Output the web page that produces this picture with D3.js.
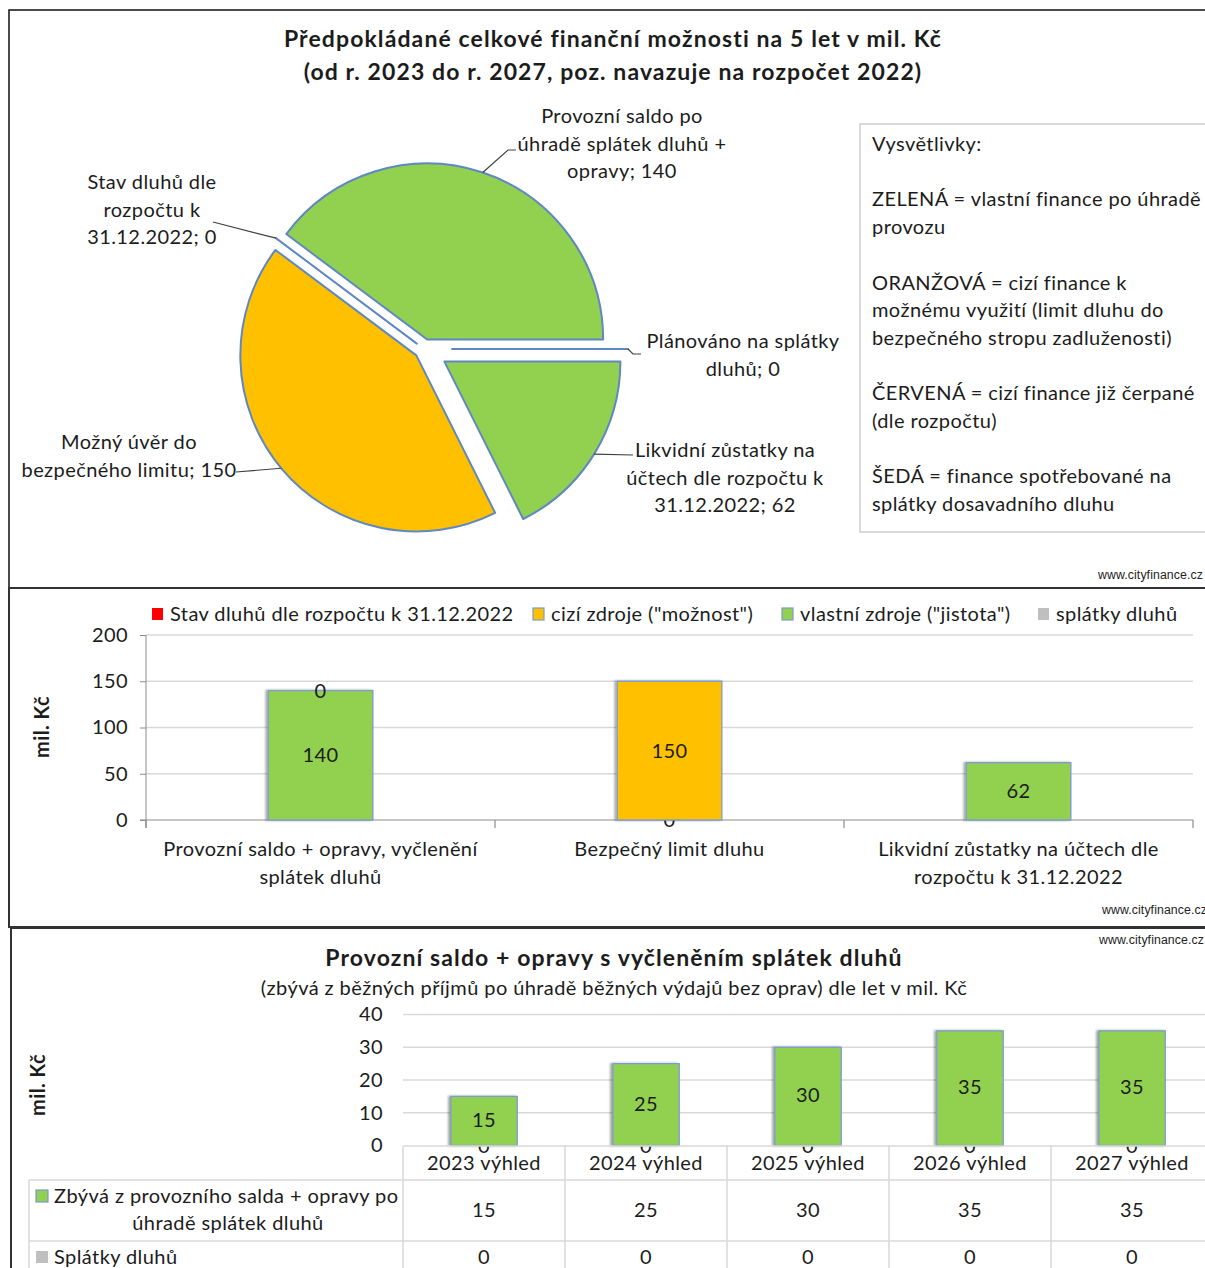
<!DOCTYPE html>
<html><head><meta charset="utf-8">
<script src="https://cdn.jsdelivr.net/npm/d3@7"></script>
<style>
html,body{margin:0;padding:0;background:#fff;overflow:hidden;}
svg{display:block;font-family:Lato,"Open Sans",sans-serif;}
svg text{letter-spacing:0.42px;}
svg text.head{letter-spacing:1.1px;font-weight:bold;font-size:23px;}
svg text.wm{letter-spacing:0.1px;}
</style></head><body>
<svg id="c" width="1205" height="1268"></svg>
<script>
// ---------- pie: five-year financial capacity ----------
const pieNames = [
  ["Stav dluhů dle", "rozpočtu k", "31.12.2022"],
  ["Provozní saldo po", "úhradě splátek dluhů +", "opravy"],
  ["Plánováno na splátky", "dluhů"],
  ["Likvidní zůstatky na", "účtech dle rozpočtu k", "31.12.2022"],
  ["Možný úvěr do", "bezpečného limitu"]
];
const pieValues = [0, 140, 0, 62, 150];
const pieKinds = ["debt", "own", "repay", "own", "foreign"];

const legendNotes = [
  ["Vysvětlivky:"],
  ["ZELENÁ = vlastní finance po úhradě", "provozu"],
  ["ORANŽOVÁ = cizí finance k", "možnému využití (limit dluhu do", "bezpečného stropu zadluženosti)"],
  ["ČERVENÁ = cizí finance již čerpané", "(dle rozpočtu)"],
  ["ŠEDÁ = finance spotřebované na", "splátky dosavadního dluhu"]
];

// ---------- stacked columns: sources ----------
const srcCategories = [
  ["Provozní saldo + opravy, vyčlenění", "splátek dluhů"],
  ["Bezpečný limit dluhu"],
  ["Likvidní zůstatky na účtech dle", "rozpočtu k 31.12.2022"]
];
const srcSeriesNames = ["Stav dluhů dle rozpočtu k 31.12.2022", "cizí zdroje (\"možnost\")", "vlastní zdroje (\"jistota\")", "splátky dluhů"];
const srcSeriesKinds = ["debt", "foreign", "own", "repay"];
const debtState = [null, 0, null];
const foreignSources = [null, 150, null];
const ownSources = [140, null, 62];
const debtRepayments = [0, null, null];
const srcTicks = [0, 50, 100, 150, 200];

// ---------- yearly outlook ----------
const years = ["2023 výhled", "2024 výhled", "2025 výhled", "2026 výhled", "2027 výhled"];
const remainingBalance = [15, 25, 30, 35, 35];
const yearlyRepayments = [0, 0, 0, 0, 0];
const yearSeriesNames = [["Zbývá z provozního salda + opravy po", "úhradě splátek dluhů"], ["Splátky dluhů"]];
const yearTicks = [0, 10, 20, 30, 40];

// ---------- styling ----------
const fills = {own: "#92d050", foreign: "#ffc000", debt: "#ff0000", repay: "#bfbfbf"};
const edge = "#5f87c3";
const ink = "#1c1c1c";
const svg = d3.select("#c");

const defs = svg.append("defs");
const sh = defs.append("filter").attr("id", "shadow").attr("x", "-20%").attr("y", "-5%").attr("width", "140%").attr("height", "110%");
sh.append("feDropShadow").attr("dx", -2).attr("dy", 0).attr("stdDeviation", 1.2).attr("flood-color", "#000").attr("flood-opacity", 0.35);

// panel frames
const frames = [[9, 10, 1220, 578], [9, 588, 1220, 339], [11, 928, 1220, 360]];
svg.selectAll("rect.frame").data(frames).join("rect").attr("class", "frame")
  .attr("x", d => d[0]).attr("y", d => d[1]).attr("width", d => d[2]).attr("height", d => d[3])
  .attr("fill", "none").attr("stroke", (d, i) => i === 0 ? "#111" : "#333").attr("stroke-width", (d, i) => i === 0 ? 1.5 : 2);

// watermarks
const marks = [[1098, 579], [1102, 914], [1099, 944]];
svg.selectAll("text.wm").data(marks).join("text").attr("class", "wm")
  .attr("x", d => d[0]).attr("y", d => d[1])
  .style("font-family", "'Liberation Sans Narrow','Arial Narrow','Liberation Sans',sans-serif")
  .style("font-size", "12.3px").attr("fill", "#222").text("www.cityfinance.cz");

// ===== pie =====
const title1 = svg.append("text").attr("class", "head").attr("x", 613).attr("text-anchor", "middle").attr("fill", ink);
title1.append("tspan").attr("x", 613).attr("y", 47).text("Předpokládané celkové finanční možnosti na 5 let v mil. Kč");
title1.append("tspan").attr("x", 613).attr("y", 80).text("(od r. 2023 do r. 2027, poz. navazuje na rozpočet 2022)");

const total = d3.sum(pieValues);
// first slice rotated so the operating-balance slice closes at 3 o'clock
const startA = Math.PI / 2 - 2 * Math.PI * (pieValues[0] + pieValues[1]) / total;
const pie = d3.pie().sort(null).startAngle(startA).endAngle(startA + 2 * Math.PI);
const R = 176;
const centre = [424, 349];
const explode = [9, 10, 28, 24, 10];
const arcGen = d3.arc().innerRadius(0).outerRadius(R);
const slices = pie(pieValues).map((a, i) => {
  const mid = (a.startAngle + a.endAngle) / 2;
  const ox = centre[0] + Math.sin(mid) * explode[i], oy = centre[1] - Math.cos(mid) * explode[i];
  return {a, i, mid, ox, oy};
});
const gPie = svg.append("g");
gPie.selectAll("path").data(slices).join("path")
  .attr("transform", d => `translate(${d.ox},${d.oy})`)
  .attr("d", d => arcGen(d.a))
  .attr("fill", d => fills[pieKinds[d.i]])
  .attr("stroke", edge).attr("stroke-width", 2).attr("stroke-linejoin", "round");

// data labels with leader lines
const pieLabelLayout = [
  {x: 152, y: 182, via: [[213, 222]]},
  {x: 622, y: 116, via: [[508, 150], [516, 150]]},
  {x: 743, y: 341, via: [[633, 354], [641, 354]]},
  {x: 725, y: 450, via: [[633, 455]]},
  {x: 129, y: 442, via: [[236, 472]]}
];
const line = d3.line();
slices.forEach(s => {
  const L = pieLabelLayout[s.i];
  const p0 = [s.ox + Math.sin(s.mid) * R, s.oy - Math.cos(s.mid) * R];
  gPie.append("path").attr("d", line([p0, ...L.via])).attr("fill", "none")
    .attr("stroke", "#404040").attr("stroke-width", 1.2);
  const lines = pieNames[s.i].slice();
  lines[lines.length - 1] += "; " + pieValues[s.i];
  const t = gPie.append("text").attr("text-anchor", "middle").attr("fill", ink).style("font-size", "20px");
  lines.forEach((ln, k) => t.append("tspan").attr("x", L.x).attr("y", L.y + k * 27.5).attr("dy", "0.35em").text(ln));
});

// explanatory note box
svg.append("rect").attr("x", 860).attr("y", 124).attr("width", 360).attr("height", 408)
  .attr("fill", "#fff").attr("stroke", "#d9d9d9").attr("stroke-width", 2);
let ny = 144;
const noteText = svg.append("text").attr("fill", ink).style("font-size", "20px");
legendNotes.forEach(blk => {
  blk.forEach(ln => {
    noteText.append("tspan").attr("x", 872).attr("y", ny).attr("dy", "0.35em").text(ln);
    ny += 27.7;
  });
  ny += 27.7;
});

// ===== stacked columns: sources =====
const srcValues = [debtState, foreignSources, ownSources, debtRepayments];
const x1 = d3.scaleBand().domain(d3.range(srcCategories.length)).range([146, 1193]).paddingInner(0).paddingOuter(0);
const y1 = d3.scaleLinear().domain([0, 200]).range([820, 635]);
const g1 = svg.append("g");
g1.selectAll("line.grid").data(srcTicks.slice(1)).join("line").attr("class", "grid")
  .attr("x1", 146).attr("x2", 1193).attr("y1", d => y1(d)).attr("y2", d => y1(d))
  .attr("stroke", "#d9d9d9").attr("stroke-width", 1.5);
const ax1 = g1.append("g").attr("transform", "translate(146,0)")
  .call(d3.axisLeft(y1).tickValues(srcTicks).tickSize(6).tickPadding(12));
ax1.select(".domain").attr("stroke", "#8c8c8c").attr("d", "M0,635V828");
ax1.selectAll(".tick line").attr("stroke", "#8c8c8c");
ax1.selectAll(".tick text").attr("fill", ink).style("font-size", "20px").style("font-family", "Lato,sans-serif");
// category axis
g1.append("line").attr("x1", 140).attr("x2", 1193).attr("y1", 820).attr("y2", 820).attr("stroke", "#8c8c8c").attr("stroke-width", 1.2);
g1.selectAll("line.ctick").data(d3.range(srcCategories.length + 1)).join("line").attr("class", "ctick")
  .attr("x1", d => 146 + d * x1.bandwidth()).attr("x2", d => 146 + d * x1.bandwidth())
  .attr("y1", 820).attr("y2", 828).attr("stroke", "#8c8c8c").attr("stroke-width", 1.2);
srcCategories.forEach((c, i) => {
  const t = g1.append("text").attr("text-anchor", "middle").attr("fill", ink).style("font-size", "20px");
  c.forEach((ln, k) => t.append("tspan").attr("x", x1(i) + x1.bandwidth() / 2).attr("y", 849 + k * 28).attr("dy", "0.35em").text(ln));
});
// stacked segments
const bw1 = x1.bandwidth() * 0.3;
srcCategories.forEach((c, i) => {
  let base = 0;
  srcValues.forEach((vals, s) => {
    const v = vals[i];
    if (v === null) return;
    const x0 = x1(i) + (x1.bandwidth() - bw1) / 2;
    if (v > 0) {
      g1.append("rect").attr("x", x0).attr("y", y1(base + v)).attr("width", bw1).attr("height", y1(base) - y1(base + v))
        .attr("fill", fills[srcSeriesKinds[s]]).attr("stroke", "#7b9bcf").attr("stroke-width", 1.3)
        .attr("filter", "url(#shadow)");
    }
    g1.append("text").attr("x", x0 + bw1 / 2).attr("y", y1(base + v / 2)).attr("dy", "0.35em")
      .attr("text-anchor", "middle").attr("fill", ink).style("font-size", "20px").text(v);
    base += v;
  });
});
// legend
const legX = [152, 533, 782, 1038];
srcSeriesNames.forEach((n, s) => {
  g1.append("rect").attr("x", legX[s]).attr("y", 608).attr("width", 11).attr("height", 12)
    .attr("fill", fills[srcSeriesKinds[s]])
    .attr("stroke", (srcSeriesKinds[s] === "foreign" || srcSeriesKinds[s] === "own") ? "#7b9bcf" : "none").attr("stroke-width", 1.2);
  g1.append("text").attr("x", legX[s] + 18).attr("y", 614).attr("dy", "0.35em").attr("fill", ink).style("font-size", "20px").text(n);
});
g1.append("text").attr("transform", "translate(42,727) rotate(-90)").attr("text-anchor", "middle").attr("dy", "0.35em")
  .attr("fill", ink).style("font-size", "20px").style("font-weight", "bold").text("mil. Kč");

// ===== yearly outlook =====
const g2 = svg.append("g");
g2.append("text").attr("class", "head").attr("x", 614).attr("y", 958).attr("dy", "0.35em").attr("text-anchor", "middle").attr("fill", ink)
  .text("Provozní saldo + opravy s vyčleněním  splátek dluhů");
g2.append("text").attr("x", 614).attr("y", 988).attr("dy", "0.35em").attr("text-anchor", "middle").attr("fill", ink)
  .style("font-size", "20px").text("(zbývá z běžných příjmů po úhradě běžných výdajů bez oprav) dle let v mil.  Kč");

const x2 = d3.scaleBand().domain(years).range([403, 1213]).paddingInner(0).paddingOuter(0);
const y2 = d3.scaleLinear().domain([0, 40]).range([1145.5, 1014.5]);
g2.selectAll("line.grid").data(yearTicks.slice(1)).join("line").attr("class", "grid")
  .attr("x1", 403).attr("x2", 1213).attr("y1", d => y2(d)).attr("y2", d => y2(d))
  .attr("stroke", "#d9d9d9").attr("stroke-width", 1.5);
const ax2 = g2.append("g").attr("transform", "translate(403,0)")
  .call(d3.axisLeft(y2).tickValues(yearTicks).tickSize(0).tickPadding(20));
ax2.select(".domain").remove();
ax2.selectAll(".tick text").attr("fill", ink).style("font-size", "20px").style("font-family", "Lato,sans-serif");

const bw2 = x2.bandwidth() * 0.41;
years.forEach((yr, i) => {
  const x0 = x2(yr) + (x2.bandwidth() - bw2) / 2;
  const stackVals = [yearlyRepayments[i], remainingBalance[i]];
  let base = 0;
  stackVals.forEach((v, s) => {
    if (v > 0) {
      g2.append("rect").attr("x", x0).attr("y", y2(base + v)).attr("width", bw2).attr("height", y2(base) - y2(base + v))
        .attr("fill", s === 0 ? fills.repay : fills.own).attr("stroke", "#7b9bcf").attr("stroke-width", 1.3)
        .attr("filter", "url(#shadow)");
    }
    g2.append("text").attr("x", x0 + bw2 / 2).attr("y", y2(base + v / 2) - (v > 0 ? 1 : 0)).attr("dy", "0.35em")
      .attr("text-anchor", "middle").attr("fill", ink).style("font-size", "20px").text(v);
    base += v;
  });
});

// data table
const grid = "#d9d9d9";
const rowTop = [1146, 1180, 1241, 1290];
g2.append("line").attr("x1", 403).attr("x2", 1213).attr("y1", rowTop[0]).attr("y2", rowTop[0]).attr("stroke", grid).attr("stroke-width", 1.5);
[rowTop[1], rowTop[2]].forEach(yy => g2.append("line").attr("x1", 29).attr("x2", 1213).attr("y1", yy).attr("y2", yy).attr("stroke", grid).attr("stroke-width", 1.5));
g2.append("line").attr("x1", 29).attr("x2", 29).attr("y1", rowTop[1]).attr("y2", 1290).attr("stroke", grid).attr("stroke-width", 1.5);
years.forEach(yr => g2.append("line").attr("x1", x2(yr)).attr("x2", x2(yr)).attr("y1", rowTop[0]).attr("y2", 1290).attr("stroke", grid).attr("stroke-width", 1.5));
years.forEach((yr, i) => {
  const cx = x2(yr) + x2.bandwidth() / 2;
  g2.append("text").attr("x", cx).attr("y", 1163).attr("dy", "0.35em").attr("text-anchor", "middle").attr("fill", ink).style("font-size", "20px").text(yr);
  g2.append("text").attr("x", cx).attr("y", 1210).attr("dy", "0.35em").attr("text-anchor", "middle").attr("fill", ink).style("font-size", "20px").text(remainingBalance[i]);
  g2.append("text").attr("x", cx).attr("y", 1257).attr("dy", "0.35em").attr("text-anchor", "middle").attr("fill", ink).style("font-size", "20px").text(yearlyRepayments[i]);
});
// row headers with legend keys
g2.append("rect").attr("x", 36).attr("y", 1190).attr("width", 12).attr("height", 12).attr("fill", fills.own).attr("stroke", "#7b9bcf").attr("stroke-width", 1.2);
g2.append("text").attr("x", 54).attr("y", 1196).attr("dy", "0.35em").attr("fill", ink).style("font-size", "20px").text(yearSeriesNames[0][0]);
g2.append("text").attr("x", 228).attr("y", 1223).attr("dy", "0.35em").attr("text-anchor", "middle").attr("fill", ink).style("font-size", "20px").text(yearSeriesNames[0][1]);
g2.append("rect").attr("x", 36).attr("y", 1251).attr("width", 12).attr("height", 12).attr("fill", fills.repay);
g2.append("text").attr("x", 54).attr("y", 1257).attr("dy", "0.35em").attr("fill", ink).style("font-size", "20px").text(yearSeriesNames[1][0]);
g2.append("text").attr("transform", "translate(38,1085) rotate(-90)").attr("text-anchor", "middle").attr("dy", "0.35em")
  .attr("fill", ink).style("font-size", "20px").style("font-weight", "bold").text("mil. Kč");
</script>
</body></html>
